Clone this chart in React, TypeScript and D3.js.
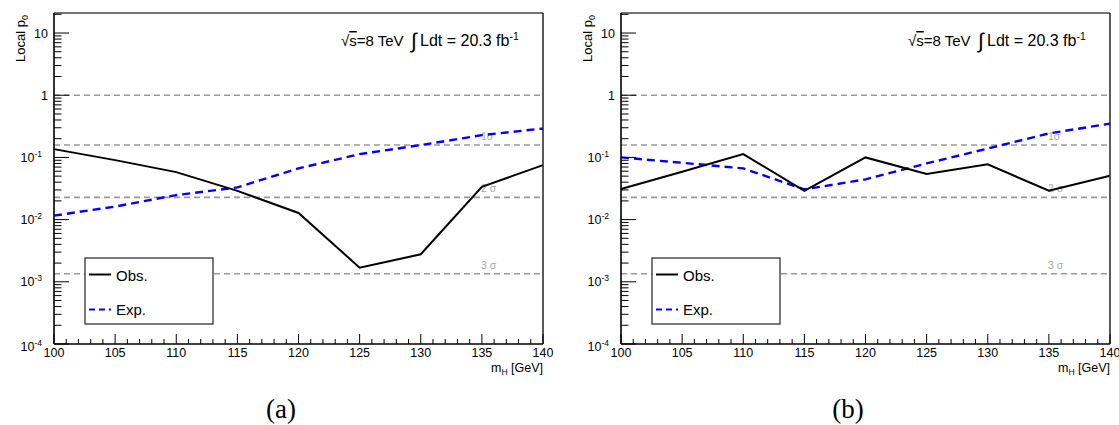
import React from 'react';
import * as d3 from 'd3';

// ---- data ----
const massPoints = [100, 105, 110, 115, 120, 125, 130, 135, 140];
const obsA = [0.136, 0.0905, 0.058, 0.029, 0.0128, 0.00169, 0.00277, 0.0337, 0.0752];
const expA = [0.0116, 0.0162, 0.0248, 0.033, 0.0666, 0.113, 0.158, 0.228, 0.292];
const obsB = [0.031, 0.059, 0.113, 0.0291, 0.1, 0.054, 0.0773, 0.0291, 0.0507];
const expB = [0.1, 0.082, 0.0666, 0.0306, 0.0444, 0.08, 0.139, 0.243, 0.35];

const refLineValues = [1, 0.1587, 0.02275, 0.00135];
const sigmaLabelValues = [0.1587, 0.02275, 0.00135];
const sigmaLabels = ['1σ', '2 σ', '3 σ'];
const xTickValues = [100, 105, 110, 115, 120, 125, 130, 135, 140];
const yDecadeExps = [-4, -3, -2, -1, 0, 1];
const legendLabels = ['Obs.', 'Exp.'];
const panelTags = ['(a)', '(b)'];

const SANS = "'Liberation Sans', Arial, Helvetica, sans-serif";
const SERIF = "'Liberation Serif', 'DejaVu Serif', serif";

function YLabel({ e, x, y }: { e: number; x: number; y: number }) {
  if (e === 0) return <text x={x} y={y} textAnchor="end" fontSize={12.5} fontFamily={SANS}>1</text>;
  if (e === 1) return <text x={x} y={y} textAnchor="end" fontSize={12.5} fontFamily={SANS}>10</text>;
  return (
    <text x={x} y={y} textAnchor="end" fontSize={12.5} fontFamily={SANS}>
      10<tspan fontSize={8.5} dy={-5}>{String(e)}</tspan>
    </text>
  );
}

function Panel({ ox, obs, exp, tag }: { ox: number; obs: number[]; exp: number[]; tag: string }) {
  const left = ox + 54;
  const right = ox + 543;
  const top = 13;
  const bottom = 344;
  const x = d3.scaleLinear().domain([100, 140]).range([left, right]);
  const y = d3.scaleLog().domain([1e-4, 21]).range([bottom, top]);

  const line = d3
    .line<number>()
    .x((_, i) => x(massPoints[i]))
    .y((d) => y(d));

  const minorX = d3.range(100, 141, 1).filter((v) => v % 5 !== 0);
  const minorY: number[] = [];
  for (const e of yDecadeExps) {
    for (let k = 2; k <= 9; k++) {
      const v = k * Math.pow(10, e);
      if (v < 21) minorY.push(v);
    }
  }

  return (
    <g>
      {/* reference lines */}
      {refLineValues.map((v, i) => (
        <line key={'r' + i} x1={left} x2={right} y1={y(v)} y2={y(v)} stroke="#9a9a9a" strokeWidth={1.6} strokeDasharray="6,4" />
      ))}
      {sigmaLabelValues.map((v, i) => (
        <text key={'s' + i} x={ox + 481} y={y(v) - 5} fontSize={10.5} fill="#aaaaaa" fontFamily={SANS}>
          {sigmaLabels[i]}
        </text>
      ))}
      {/* data */}
      <path d={line(exp) || ''} fill="none" stroke="#0000ff" strokeWidth={2.4} strokeDasharray="8,5" />
      <path d={line(obs) || ''} fill="none" stroke="#000" strokeWidth={2} />

      {/* frame */}
      <line x1={left} x2={right} y1={top} y2={top} stroke="#444" strokeWidth={1.5} />
      <line x1={right} x2={right} y1={top} y2={bottom} stroke="#222" strokeWidth={1.5} />
      <line x1={left} x2={left} y1={top} y2={bottom} stroke="#000" strokeWidth={1.6} />
      <line x1={left} x2={right} y1={bottom} y2={bottom} stroke="#000" strokeWidth={1.6} />

      {/* x ticks */}
      {xTickValues.map((v) => (
        <g key={'xt' + v}>
          <line x1={x(v)} x2={x(v)} y1={bottom} y2={bottom - 10} stroke="#000" strokeWidth={1} />
          <text x={x(v)} y={357} textAnchor="middle" fontSize={12.5} fontFamily={SANS}>{v}</text>
        </g>
      ))}
      {minorX.map((v) => (
        <line key={'xm' + v} x1={x(v)} x2={x(v)} y1={bottom} y2={bottom - 5} stroke="#000" strokeWidth={1} />
      ))}
      <text x={right} y={372} textAnchor="end" fontSize={12.5} fontFamily={SANS}>
        m<tspan fontSize={8.5} dy={3}>H</tspan>
        <tspan dy={-3}> [GeV]</tspan>
      </text>

      {/* y ticks */}
      {yDecadeExps.map((e) => {
        const v = Math.pow(10, e);
        return (
          <g key={'yt' + e}>
            <line x1={left} x2={left + 15} y1={y(v)} y2={y(v)} stroke="#000" strokeWidth={1} />
            <YLabel e={e} x={e >= 0 ? ox + 48 : ox + 42} y={y(v) + (e === -4 ? 7 : 4.5)} />
          </g>
        );
      })}
      {minorY.map((v, i) => (
        <line key={'ym' + i} x1={left} x2={left + 7.5} y1={y(v)} y2={y(v)} stroke="#000" strokeWidth={1} />
      ))}
      <text transform={`translate(${ox + 25},15) rotate(-90)`} textAnchor="end" fontSize={13} fontFamily={SANS}>
        Local p<tspan fontSize={9} dy={3}>0</tspan>
      </text>

      {/* annotation */}
      <text x={ox + 341} y={46} fontSize={15} fontFamily={SANS}>
        √<tspan style={{ textDecoration: 'overline' }}>s</tspan>=8 TeV
        <tspan x={ox + 411} fontSize={21} dy={2}>∫</tspan>
        <tspan x={ox + 420} fontSize={16} dy={-2}>Ldt = 20.3 fb</tspan>
        <tspan fontSize={10.5} dy={-6}>-1</tspan>
      </text>

      {/* legend */}
      <rect x={ox + 85} y={258} width={128} height={66} fill="#fff" stroke="#222" strokeWidth={1.2} />
      <line x1={ox + 89} x2={ox + 111} y1={274.5} y2={274.5} stroke="#000" strokeWidth={2} />
      <text x={ox + 116} y={281} fontSize={15} fontFamily={SANS}>{legendLabels[0]}</text>
      <line x1={ox + 89} x2={ox + 111} y1={309.5} y2={309.5} stroke="#0000ff" strokeWidth={2} strokeDasharray="6,4" />
      <text x={ox + 116} y={314.5} fontSize={15} fontFamily={SANS}>{legendLabels[1]}</text>

      {/* sub-figure tag */}
      <text x={ox + 281} y={418} textAnchor="middle" fontSize={27} fontFamily={SERIF}>{tag}</text>
    </g>
  );
}

export default function App() {
  return (
    <div style={{ position: 'absolute', left: 0, top: 0 }}>
      <svg width={1119} height={425} style={{ display: 'block', background: '#fff' }}>
        <rect width={1119} height={425} fill="#fff" />
        <Panel ox={0} obs={obsA} exp={expA} tag={panelTags[0]} />
        <Panel ox={567} obs={obsB} exp={expB} tag={panelTags[1]} />
      </svg>
    </div>
  );
}
